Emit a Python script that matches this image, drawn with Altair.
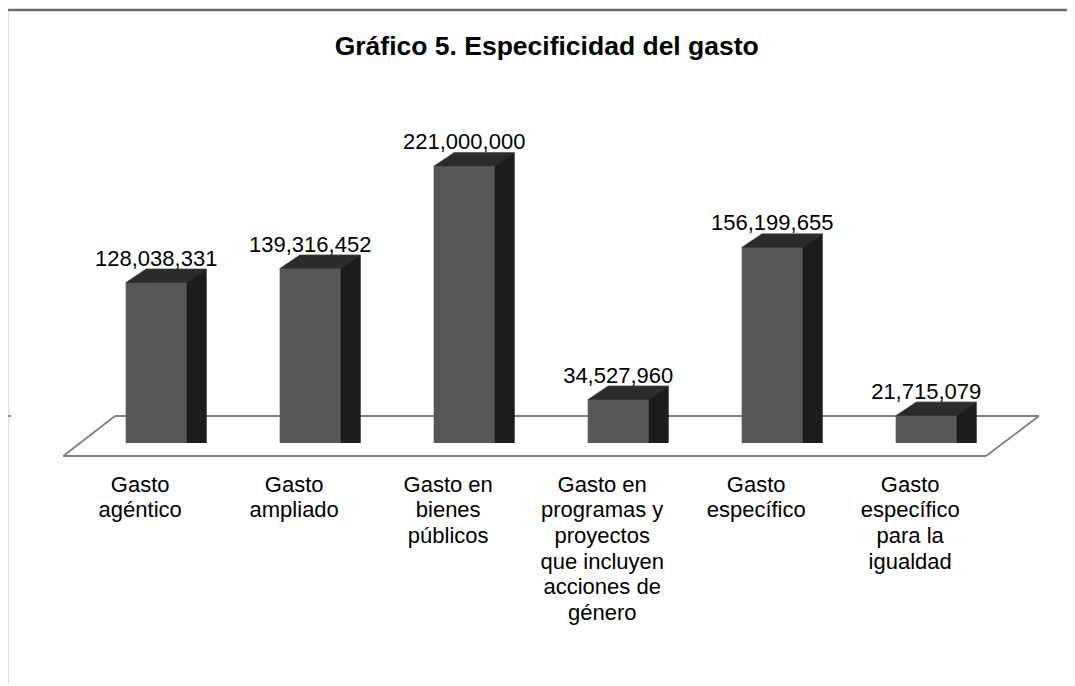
import altair as alt
import pandas as pd

# ---- data ----
categorias = [
    "Gasto agéntico",
    "Gasto ampliado",
    "Gasto en bienes públicos",
    "Gasto en programas y proyectos que incluyen acciones de género",
    "Gasto específico",
    "Gasto específico para la igualdad",
]
etiquetas = [
    "Gasto\nagéntico",
    "Gasto\nampliado",
    "Gasto en\nbienes\npúblicos",
    "Gasto en\nprogramas y\nproyectos\nque incluyen\nacciones de\ngénero",
    "Gasto\nespecífico",
    "Gasto\nespecífico\npara la\nigualdad",
]
valores = [128038331, 139316452, 221000000, 34527960, 156199655, 21715079]
titulo = "Gráfico 5. Especificidad del gasto"

df = pd.DataFrame({"categoria": categorias, "etiqueta": etiquetas, "valor": valores})

FONT = "Liberation Sans"
DEPTH = 20
SLOPE = 0.67

x_scale = alt.Scale(domain=categorias, range=[112.7, 943.7], paddingInner=0.6039, paddingOuter=0)
y_scale = alt.Scale(domain=[0, 300000000], range=[430, 54.4], nice=False, zero=True)
X = alt.X("categoria:N", scale=x_scale, axis=None, sort=categorias)
Y = alt.Y("valor:Q", scale=y_scale, axis=None, stack=None)

base = alt.Chart(df)


def seg(x1, y1, x2, y2, color, w):
    return alt.Chart(pd.DataFrame({"s": [0]})).mark_rule(color=color, strokeWidth=w).encode(
        x=alt.value(x1), x2=alt.value(x2), y=alt.value(y1), y2=alt.value(y2)
    )


floor_c = "#808080"
floor = [
    seg(50.3, 443, 973, 443, floor_c, 1.8),
    seg(102, 403, 1026, 403, floor_c, 1.8),
    seg(50.3, 443, 102, 403, floor_c, 1.8),
    seg(973, 443, 1026, 403, floor_c, 1.8),
]
border_c = "#6b6b6b"
border = [
    seg(-6, -3, 1062, -3, border_c, 2.5),
    seg(-6, -3, -6, 690, border_c, 2.5),
    seg(-6, 403, -2, 403, border_c, 1.5),
]

side_layers = [
    base.mark_bar(color="#1c1c1c", xOffset=k, yOffset=-SLOPE * k, y2Offset=-SLOPE * k).encode(x=X, y=Y)
    for k in range(1, DEPTH + 1)
]
top_layers = [
    base.mark_tick(color="#2e2e2e", size=61, thickness=1.6, orient="horizontal",
                   xOffset=k, yOffset=-SLOPE * k).encode(x=X, y=Y)
    for k in range(0, DEPTH + 1)
]
front = base.mark_bar(color="#575757").encode(x=X, y=Y)

val_text = base.mark_text(font=FONT, fontSize=22, color="black", baseline="alphabetic", dy=-17).encode(
    x=X, y=Y, text=alt.Text("valor:Q", format=",d")
)
cat_text = base.mark_text(font=FONT, fontSize=22, lineBreak="\n", lineHeight=25.7,
                          baseline="alphabetic", dx=-16, color="black").encode(
    x=X, y=alt.value(478.7), text="etiqueta:N"
)
title = alt.Chart(pd.DataFrame({"t": [titulo]})).mark_text(
    font=FONT, fontSize=26.5, fontWeight="bold", baseline="alphabetic", align="center", color="black"
).encode(x=alt.value(533.7), y=alt.value(42), text="t:N")

chart = alt.layer(*floor, *border, *side_layers, *top_layers, front, val_text, cat_text, title).properties(
    width=1054,
    height=670,
    autosize=alt.AutoSizeParams(type="none"),
    padding={"left": 5, "top": 5, "right": 0, "bottom": 0},
    background="white",
).configure_view(stroke=None)

chart.save("out.html", embed_options={"renderer": "svg", "actions": False})
